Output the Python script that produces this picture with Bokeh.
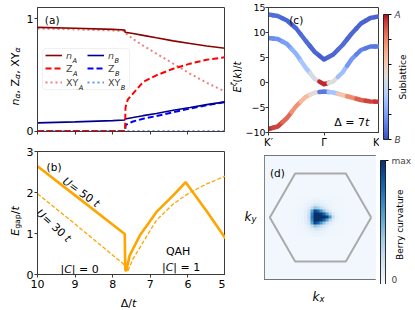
import math
import numpy as np
from bokeh.plotting import figure
from bokeh.models import (Range1d, FixedTicker, Label, Legend, LegendItem, ColorBar,
                          LinearColorMapper, BoxAnnotation)
from bokeh.layouts import row, column
from bokeh.embed import file_html
from bokeh.resources import INLINE
from bokeh.palettes import Blues256

# ---------------- data: panel (a) ----------------
delta_a = [10.0, 9.0, 8.0, 7.68, 7.67, 7.46, 7.19, 6.84, 6.39, 5.94, 5.5, 5.0]
n_A = [0.923, 0.915, 0.905, 0.900, 0.880, 0.868, 0.852, 0.830, 0.803, 0.780, 0.757, 0.737]
xy_A = [0.913, 0.905, 0.895, 0.890, 0.876, 0.820, 0.760, 0.690, 0.600, 0.510, 0.430, 0.350]
n_B = [0.073, 0.082, 0.093, 0.098, 0.108, 0.120, 0.137, 0.157, 0.185, 0.210, 0.235, 0.260]
delta_z = [10.0, 7.67, 7.66, 7.60, 7.46, 7.19, 6.84, 6.39, 5.94, 5.5, 5.0]
z_A = [0.0, 0.0, 0.21, 0.28, 0.334, 0.437, 0.496, 0.555, 0.600, 0.635, 0.658]
z_B = [0.0, 0.0, 0.05, 0.065, 0.085, 0.110, 0.133, 0.168, 0.200, 0.230, 0.258]
delta_xyB = [10.0, 5.0]
xy_B = [0.0, 0.0]
a_yticks = [0, 1]
delta_ticks = [10, 9, 8, 7, 6, 5]

# ---------------- data: panel (b) ----------------
delta_50 = [10.0, 9.0, 7.68, 7.665, 7.64, 7.55, 7.28, 6.84, 6.39, 6.06, 5.5, 5.0]
gap_50 = [2.64, 1.93, 0.99, 0.12, 0.08, 0.46, 0.95, 1.52, 1.93, 2.25, 1.54, 0.88]
delta_30 = [10.0, 9.0, 7.72, 7.60, 7.46, 7.19, 6.84, 6.39, 5.95, 5.5, 5.0]
gap_30 = [1.97, 1.23, 0.26, 0.08, 0.38, 0.79, 1.32, 1.72, 2.00, 2.21, 2.40]
b_yticks = [0, 1, 2, 3]

# ---------------- data: panel (c) ----------------
k_path = [0.0, 0.083, 0.167, 0.25, 0.333, 0.417, 0.5, 0.583, 0.667, 0.75, 0.833, 0.917, 1.0]
band1 = [13.6, 13.3, 12.4, 10.8, 8.4, 6.1, 4.6, 5.6, 7.5, 9.8, 11.8, 12.9, 13.25]
band2 = [8.9, 8.7, 7.7, 5.7, 3.0, 0.7, -0.35, 0.2, 2.0, 4.7, 6.5, 7.2, 7.2]
band3 = [-9.3, -8.8, -7.1, -4.7, -2.9, -2.0, -1.8, -2.0, -2.5, -3.0, -3.5, -3.8, -3.85]
weight1 = [0.08, 0.07, 0.06, 0.06, 0.07, 0.06, 0.04, 0.06, 0.07, 0.06, 0.05, 0.05, 0.05]
weight2 = [0.15, 0.16, 0.20, 0.26, 0.33, 0.47, 0.97, 0.50, 0.30, 0.18, 0.12, 0.10, 0.10]
weight3 = [0.96, 0.93, 0.86, 0.77, 0.66, 0.52, 0.10, 0.32, 0.62, 0.78, 0.88, 0.93, 0.95]
c_yticks = [-10, -5, 0, 5, 10, 15]
c_xticks = [0, 0.5, 1]
c_xlabels = ["K′", "Γ", "K"]
sub_ticks = [0, 0.2, 0.4, 0.6, 0.8, 1]

# ---------------- data: panel (d) ----------------
hex_kx = [1.0, 0.5, -0.5, -1.0, -0.5, 0.5, 1.0]
hex_ky = [0.0, 0.866, 0.866, 0.0, -0.866, -0.866, 0.0]
berry_bg = 0.03
berry_cell = 0.06
# rows from top (ky=+0.36) to bottom (ky=-0.36), columns kx=-0.42..+0.42
berry_core = [
    [0.04, 0.04, 0.04, 0.05, 0.05, 0.06, 0.06, 0.05, 0.05, 0.04, 0.04, 0.04, 0.04, 0.04, 0.04],
    [0.04, 0.04, 0.05, 0.06, 0.07, 0.08, 0.08, 0.07, 0.06, 0.05, 0.05, 0.04, 0.04, 0.04, 0.04],
    [0.04, 0.05, 0.06, 0.08, 0.12, 0.16, 0.15, 0.12, 0.09, 0.07, 0.05, 0.05, 0.04, 0.04, 0.04],
    [0.05, 0.05, 0.07, 0.12, 0.25, 0.40, 0.35, 0.25, 0.16, 0.10, 0.07, 0.05, 0.04, 0.04, 0.04],
    [0.05, 0.06, 0.09, 0.18, 0.55, 0.90, 0.80, 0.60, 0.40, 0.22, 0.12, 0.07, 0.05, 0.04, 0.04],
    [0.05, 0.06, 0.10, 0.22, 0.65, 1.00, 1.00, 0.95, 0.80, 0.55, 0.30, 0.12, 0.06, 0.05, 0.04],
    [0.05, 0.07, 0.10, 0.24, 0.70, 1.00, 1.00, 1.00, 1.00, 0.90, 0.60, 0.22, 0.08, 0.05, 0.04],
    [0.05, 0.06, 0.10, 0.22, 0.65, 1.00, 1.00, 0.95, 0.80, 0.55, 0.30, 0.12, 0.06, 0.05, 0.04],
    [0.05, 0.06, 0.09, 0.18, 0.55, 0.90, 0.80, 0.60, 0.40, 0.22, 0.12, 0.07, 0.05, 0.04, 0.04],
    [0.05, 0.05, 0.07, 0.12, 0.25, 0.40, 0.35, 0.25, 0.16, 0.10, 0.07, 0.05, 0.04, 0.04, 0.04],
    [0.04, 0.05, 0.06, 0.08, 0.12, 0.16, 0.15, 0.12, 0.09, 0.07, 0.05, 0.05, 0.04, 0.04, 0.04],
    [0.04, 0.04, 0.05, 0.06, 0.07, 0.08, 0.08, 0.07, 0.06, 0.05, 0.05, 0.04, 0.04, 0.04, 0.04],
    [0.04, 0.04, 0.04, 0.05, 0.05, 0.06, 0.06, 0.05, 0.05, 0.04, 0.04, 0.04, 0.04, 0.04, 0.04],
]

# ---------------- styling helpers ----------------
FONT = "DejaVu Sans"
AX = "#3a3a3a"
ORANGE = "#ffa500"

CW = {'n': .634, 'Z': .685, 'X': .685, 'Y': .611, ',': .318, ' ': .318, 'α': .659, 'E': .632,
      'g': .635, 'a': .613, 'p': .635, '/': .337, 't': .392, 'ζ': .52, '(': .39, ')': .39,
      'k': .579, 'x': .592, 'y': .592, 'U': .732, '=': .838, '0': .636, '1': .636, '3': .636,
      '5': .636, '7': .636, '|': .337, 'C': .698, 'Q': .787, 'A': .684, 'H': .752, 'B': .686,
      'Δ': .684, 'S': .635, 'u': .634, 'b': .635, 'l': .278, 'i': .278, 'c': .55, 'e': .615,
      'r': .411, 'v': .592, 'm': .974, 'd': .635}


def tw(s, size):
    return sum(CW.get(ch, 0.6) for ch in s) * size


def rich(p, x, y, pieces, size=11, angle=0.0, units="data", align="left", vcenter=True,
         color="black"):
    widths = [tw(t, size * sc) for (t, st, sc, sh) in pieces]
    total = sum(widths)
    s0 = 0.0 if align == "left" else (-total / 2 if align == "center" else -total)
    c, s = math.cos(angle), math.sin(angle)
    base = -0.36 * size if vcenter else 0.0
    for (t, st, sc, sh), w in zip(pieces, widths):
        up = base + sh * size
        ox = s0 * c - up * s
        oy = s0 * s + up * c
        p.add_layout(Label(x=x, y=y, x_units=units, y_units=units, text=t,
                           x_offset=ox, y_offset=oy, angle=angle,
                           text_font=FONT, text_font_style=st,
                           text_font_size=f"{size * sc:.1f}px", text_color=color,
                           text_baseline="alphabetic", text_align="left"))
        s0 += w


def style(p, tick_size="11px", standoff=2):
    p.outline_line_color = AX
    p.outline_line_width = 1
    p.xgrid.visible = False
    p.ygrid.visible = False
    p.background_fill_color = "white"
    p.border_fill_color = "white"
    for ax in p.axis:
        ax.axis_line_color = AX
        ax.major_tick_line_color = AX
        ax.major_tick_out = 3
        ax.major_tick_in = 0
        ax.minor_tick_line_color = None
        ax.major_label_text_font = FONT
        ax.major_label_text_font_size = tick_size
        ax.major_label_text_color = "black"
        ax.major_label_standoff = standoff


def text_fig(w, h):
    f = figure(frame_width=w, frame_height=h, x_range=Range1d(0, w), y_range=Range1d(0, h),
               min_border=0, min_border_left=0, min_border_right=0, min_border_top=0,
               min_border_bottom=0, x_axis_location=None, y_axis_location=None,
               output_backend="svg", toolbar_location=None)
    f.outline_line_color = None
    f.background_fill_color = "white"
    f.border_fill_color = "white"
    for g in f.grid:
        g.visible = False
    return f


# coolwarm palette (Moreland diverging map)
CW_ANCHORS = [(59, 76, 192), (68, 90, 204), (77, 104, 215), (87, 117, 225), (98, 130, 234),
              (108, 142, 241), (119, 154, 247), (130, 165, 251), (141, 176, 254), (152, 185, 255),
              (163, 194, 255), (174, 201, 253), (184, 208, 249), (194, 213, 244), (204, 217, 238),
              (213, 219, 230), (221, 221, 221), (229, 216, 209), (236, 211, 197), (241, 204, 185),
              (245, 196, 173), (247, 187, 160), (247, 177, 148), (247, 166, 135), (244, 154, 123),
              (241, 141, 111), (236, 127, 99), (229, 112, 88), (222, 96, 77), (213, 80, 66),
              (203, 62, 56), (192, 40, 47), (180, 4, 38)]
COOLWARM = []
for i in range(256):
    t = i / 255 * (len(CW_ANCHORS) - 1)
    j = min(int(t), len(CW_ANCHORS) - 2)
    f = t - j
    r, g, b = [round(CW_ANCHORS[j][q] * (1 - f) + CW_ANCHORS[j + 1][q] * f) for q in range(3)]
    COOLWARM.append(f"#{r:02x}{g:02x}{b:02x}")


def cw_color(w):
    return COOLWARM[max(0, min(255, int(round(w * 255))))]


# ================= layout constants (pixels) =================
YL_W = 23                # left text strip
PA_LB = 11               # left border (tick labels) of panels a, b
FW_L = 188               # left frame width
A_TOP, A_FH, A_BOT = 7, 124, 12
B_TOP, B_FH, B_BOT = 8, 123, 18
XLB_H = 17
YLC_W = 17
PC_LB = 23
C_TOP, C_FH, C_BOT = 7, 125, 15
FW_C = 111
YLD_W = 39
FW_D = 112
D_TOP, D_FH, D_BOT = 5, 124, 5
XLD_H = 28
CB_W = 40

# ================= panel (a) =================
pa = figure(frame_width=FW_L, frame_height=A_FH, min_border_left=PA_LB, min_border_right=0,
            min_border_top=A_TOP, min_border_bottom=A_BOT,
            x_range=Range1d(10, 5), y_range=Range1d(-0.004, 1.1),
            output_backend="svg", toolbar_location=None)
style(pa, standoff=1)
pa.xaxis.ticker = FixedTicker(ticks=delta_ticks)
pa.xaxis.major_label_overrides = {t: "" for t in delta_ticks}
pa.yaxis.ticker = FixedTicker(ticks=a_yticks)

r_xyB = pa.line(delta_xyB, xy_B, line_color="cornflowerblue", line_width=2, line_dash="2 3")
r_zB = pa.line(delta_z, z_B, line_color="blue", line_width=2, line_dash="6 3")
r_nB = pa.line(delta_a, n_B, line_color="#00008b", line_width=1.6)
r_xyA = pa.line(delta_a, xy_A, line_color="lightcoral", line_width=2, line_dash="2 3")
r_zA = pa.line(delta_z, z_A, line_color="red", line_width=2, line_dash="6 3")
r_nA = pa.line(delta_a, n_A, line_color="#8b0000", line_width=1.6)

pa.add_layout(BoxAnnotation(left=5, right=92, bottom=42, top=83, left_units="screen",
                            right_units="screen", bottom_units="screen", top_units="screen",
                            fill_color="white", fill_alpha=0.85, line_color="#cccccc",
                            line_width=1, border_radius=3))
leg_specs = [(r_nA, "n", "italic", "A", 8, 70), (r_zA, "Z", "normal", "A", 8, 57),
             (r_xyA, "XY", "normal", "A", 8, 43), (r_nB, "n", "italic", "B", 50, 70),
             (r_zB, "Z", "normal", "B", 50, 57), (r_xyB, "XY", "normal", "B", 50, 43)]
for rr, main, st, sub, lx, ly in leg_specs:
    leg = Legend(items=[LegendItem(label=main, renderers=[rr])], location=(lx, ly),
                 glyph_width=17, glyph_height=12, label_height=12, label_width=0,
                 label_standoff=4, padding=0, margin=0, border_line_color=None,
                 background_fill_alpha=0, label_text_font=FONT, label_text_font_size="9.5px",
                 label_text_font_style=st)
    pa.add_layout(leg)
    rich(pa, lx + 17 + 4 + tw(main, 9.5), ly + 6, [(sub, "italic", 0.7, -0.22)], size=9.5,
         units="screen")

rich(pa, 9.61, 1.018, [("(a)", "normal", 1, 0)], size=10.5, align="center")

yl_a = text_fig(YL_W, A_TOP + A_FH + A_BOT)
rich(yl_a, 11, A_BOT + A_FH / 2, [("n", "italic", 1, 0), ("α", "italic", 0.7, -0.2),
                                  (", Z", "normal", 1, 0), ("α", "italic", 0.7, -0.2),
                                  (", XY", "normal", 1, 0), ("α", "italic", 0.7, -0.2)],
     size=11, angle=math.pi / 2, align="center")

# ================= panel (b) =================
pb = figure(frame_width=FW_L, frame_height=B_FH, min_border_left=PA_LB, min_border_right=0,
            min_border_top=B_TOP, min_border_bottom=B_BOT,
            x_range=Range1d(10, 5), y_range=Range1d(0, 3),
            output_backend="svg", toolbar_location=None)
style(pb)
pb.yaxis.major_label_standoff = 1
pb.xaxis.ticker = FixedTicker(ticks=delta_ticks)
pb.yaxis.ticker = FixedTicker(ticks=b_yticks)
pb.line(delta_30, gap_30, line_color=ORANGE, line_width=1.3, line_dash="4 2")
pb.line(delta_50, gap_50, line_color=ORANGE, line_width=2.6)

rich(pb, 9.56, 2.71, [("(b)", "normal", 1, 0)], size=10.5, align="center")
rich(pb, 8.78, 2.08, [("U", "italic", 1, 0), (" = 50", "normal", 1, 0), ("t", "italic", 1, 0)],
     size=11, angle=-0.63, align="center")
rich(pb, 9.5, 1.26, [("U", "italic", 1, 0), (" = 30", "normal", 1, 0), ("t", "italic", 1, 0)],
     size=11, angle=-0.74, align="center")
rich(pb, 8.88, 0.22, [("|", "normal", 1, 0), ("C", "italic", 1, 0), ("| = 0", "normal", 1, 0)],
     size=11, align="center")
rich(pb, 6.26, 0.66, [("QAH", "normal", 1, 0)], size=11, align="center")
rich(pb, 6.18, 0.27, [("|", "normal", 1, 0), ("C", "italic", 1, 0), ("| = 1", "normal", 1, 0)],
     size=11, align="center")

yl_b = text_fig(YL_W, B_TOP + B_FH + B_BOT)
rich(yl_b, 11, B_BOT + B_FH / 2, [("E", "italic", 1, 0), ("gap", "normal", 0.7, -0.2),
                                  ("/", "normal", 1, 0), ("t", "italic", 1, 0)],
     size=11, angle=math.pi / 2, align="center")
xl_b = text_fig(YL_W + PA_LB + FW_L, XLB_H)
rich(xl_b, YL_W + PA_LB + FW_L / 2, 10, [("Δ", "normal", 1, 0), ("/", "normal", 1, 0),
                                         ("t", "italic", 1, 0)], size=11, align="center")

# ================= panel (c) =================
pc = figure(frame_width=FW_C, frame_height=C_FH, min_border_left=PC_LB, min_border_right=0,
            min_border_top=C_TOP, min_border_bottom=C_BOT,
            x_range=Range1d(0, 1), y_range=Range1d(-10, 15),
            output_backend="svg", toolbar_location=None)
style(pc, tick_size="10px", standoff=1)
pc.yaxis.major_label_standoff = 0
pc.yaxis.major_label_text_font_size = "9.5px"
pc.yaxis.ticker = FixedTicker(ticks=c_yticks)
pc.yaxis.major_label_overrides = {-10: "−10", -5: "−5"}
pc.xaxis.ticker = FixedTicker(ticks=c_xticks)
pc.xaxis.major_label_overrides = {t: s for t, s in zip(c_xticks, c_xlabels)}


def band_pieces(k, e, w):
    xs, ys, cols = [], [], []
    n = len(k)
    for i in range(n):
        x0 = k[i] if i == 0 else (k[i - 1] + k[i]) / 2
        y0 = e[i] if i == 0 else (e[i - 1] + e[i]) / 2
        x1 = k[i] if i == n - 1 else (k[i] + k[i + 1]) / 2
        y1 = e[i] if i == n - 1 else (e[i] + e[i + 1]) / 2
        xs.append([x0, k[i], x1])
        ys.append([y0, e[i], y1])
        cols.append(cw_color(w[i]))
    return xs, ys, cols


for e, w in ((band1, weight1), (band2, weight2), (band3, weight3)):
    xs, ys, cols = band_pieces(k_path, e, w)
    pc.multi_line(xs, ys, line_color=cols, line_width=4.5, line_cap="round", line_join="round")

rich(pc, 0.25, 13.2, [("(c)", "normal", 1, 0)], size=10.5, align="center")
rich(pc, 0.75, -7.2, [("Δ = 7", "normal", 1, 0), ("t", "italic", 1, 0)], size=11,
     align="center")

C_H = C_TOP + C_FH + C_BOT
yl_c = text_fig(YLC_W, C_H)
rich(yl_c, 8, C_BOT + C_FH / 2, [("E", "italic", 1, 0), ("ζ", "italic", 0.7, 0.3),
                                 ("(", "normal", 1, 0), ("k", "italic", 1, 0),
                                 (")/", "normal", 1, 0), ("t", "italic", 1, 0)],
     size=10, angle=math.pi / 2, align="center")

cw_map = LinearColorMapper(palette=COOLWARM, low=0, high=1)
cb_fig_c = text_fig(CB_W, C_H)
cb_c = ColorBar(color_mapper=cw_map, ticker=FixedTicker(ticks=sub_ticks),
                major_label_overrides={0: "B", 0.2: "", 0.4: "", 0.6: "", 0.8: "", 1: "A"},
                location=(4, C_BOT), width=5, height=C_FH, padding=0, margin=0,
                major_tick_in=0, major_tick_out=3, major_tick_line_color="black",
                bar_line_color="black", bar_line_width=0.8, label_standoff=3,
                major_label_text_font=FONT, major_label_text_font_size="9px",
                major_label_text_font_style="italic", background_fill_alpha=0,
                border_line_color=None)
cb_fig_c.add_layout(cb_c)
rich(cb_fig_c, 20, C_BOT + C_FH / 2, [("Sublattice", "normal", 1, 0)], size=9,
     angle=math.pi / 2, align="center")

# ================= panel (d) =================
pd_ = figure(frame_width=FW_D, frame_height=D_FH, min_border_left=0, min_border_right=0,
             min_border_top=D_TOP, min_border_bottom=D_BOT,
             x_range=Range1d(-1.105, 1.105), y_range=Range1d(-1.223, 1.223),
             x_axis_location=None, y_axis_location=None,
             output_backend="svg", toolbar_location=None)
pd_.outline_line_color = "#111111"
for g in pd_.grid:
    g.visible = False

nx, ny = 39, 41
grid = np.full((ny, nx), berry_bg)
core = np.array(berry_core)
for r in range(core.shape[0]):
    for c in range(core.shape[1]):
        grid[26 - r, 12 + c] = core[r, c]
blues = list(reversed(Blues256))
bmap = LinearColorMapper(palette=blues, low=0, high=1)
pd_.image(image=[grid], x=-(nx * berry_cell) / 2, y=-(ny * berry_cell) / 2,
          dw=nx * berry_cell, dh=ny * berry_cell, color_mapper=bmap)
pd_.line(hex_kx, hex_ky, line_color="#aaaaaa", line_width=2)
rich(pd_, -0.85, 0.96, [("(d)", "normal", 1, 0)], size=10.5, align="center")

D_H = D_TOP + D_FH + D_BOT
yl_d = text_fig(YLD_W, D_H)
rich(yl_d, 25, D_BOT + D_FH / 2 + 10, [("k", "italic", 1, 0), ("y", "italic", 0.7, -0.22)],
     size=12, align="center")

cb_fig_d = text_fig(CB_W, D_H)
cb_d = ColorBar(color_mapper=bmap, ticker=FixedTicker(ticks=[0, 1]),
                major_label_overrides={0: "0", 1: "max"},
                location=(4, D_BOT), width=5, height=D_FH, padding=0, margin=0,
                major_tick_in=0, major_tick_out=3, major_tick_line_color="black",
                bar_line_color="black", bar_line_width=0.8, label_standoff=3,
                major_label_text_font=FONT, major_label_text_font_size="9px",
                background_fill_alpha=0, border_line_color=None)
cb_fig_d.add_layout(cb_d)
rich(cb_fig_d, 20, D_BOT + D_FH / 2 - 2, [("Berry curvature", "normal", 1, 0)], size=9,
     angle=math.pi / 2, align="center")

xl_d = text_fig(YLD_W + FW_D + CB_W, XLD_H)
rich(xl_d, YLD_W + FW_D / 2 - 2, XLD_H - 8, [("k", "italic", 1, 0), ("x", "italic", 0.7, -0.22)],
     size=12, align="center")

left = column(row(yl_a, pa), row(yl_b, pb), xl_b)
right = column(row(yl_c, pc, cb_fig_c), row(yl_d, pd_, cb_fig_d), xl_d)
layout = row(left, right)
open("out.html", "w").write(file_html(layout, INLINE))
